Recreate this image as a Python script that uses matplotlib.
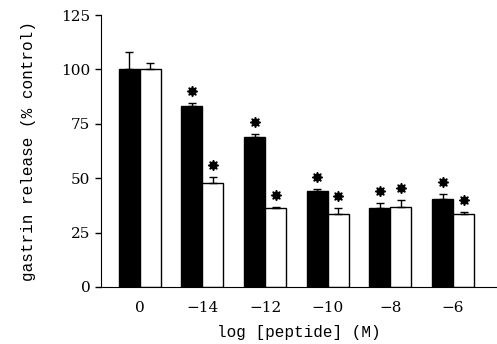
import numpy as np
import matplotlib.pyplot as plt

plt.rcParams['font.family'] = 'DejaVu Serif'

groups = ['0', '\u221214', '\u221212', '\u221210', '\u22128', '\u22126']
black_vals = [100, 83.3, 69.1, 44.1, 36.4, 40.4]
black_err = [8.0, 1.4, 1.1, 0.9, 2.0, 2.2]
white_vals = [100, 47.9, 36.3, 33.5, 36.6, 33.4]
white_err = [3.0, 2.8, 0.4, 2.9, 3.4, 1.2]
black_sig = [False, True, True, True, True, True]
white_sig = [False, True, True, True, True, True]

fig = plt.figure(figsize=(4.97, 3.44), dpi=100)
ax = fig.add_axes([0.203, 0.166, 0.797, 0.79])

x = np.arange(len(groups))
w = 0.335
bv = np.array(black_vals)
be = np.array(black_err)
wv = np.array(white_vals)
we = np.array(white_err)

ax.bar(x - w / 2, bv, w, color='black', edgecolor='black', linewidth=1)
ax.bar(x + w / 2, wv, w, color='white', edgecolor='black', linewidth=1)
ax.errorbar(x - w / 2, bv, yerr=[np.zeros_like(be), be], fmt='none',
            ecolor='black', elinewidth=1, capsize=3, capthick=1)
ax.errorbar(x + w / 2, wv, yerr=[np.zeros_like(we), we], fmt='none',
            ecolor='black', elinewidth=1, capsize=3, capthick=1)

# significance stars above the error bars
star = (8, 1, 0)
for i in range(len(groups)):
    if black_sig[i]:
        ax.plot(x[i] - w / 2, bv[i] + be[i] + 5.5, marker=star, color='black',
                markersize=7.5, linestyle='none')
    if white_sig[i]:
        ax.plot(x[i] + w / 2, wv[i] + we[i] + 5.5, marker=star, color='black',
                markersize=7.5, linestyle='none')

ax.set_xlim(-0.62, 5.7)
ax.set_ylim(0, 125)
ax.set_yticks([0, 25, 50, 75, 100, 125])
ax.set_xticks(x)
ax.set_xticklabels(groups)
ax.tick_params(axis='x', length=0, pad=10, labelsize=11)
ax.tick_params(axis='y', length=4, width=1, direction='out', labelsize=11)
ax.spines['top'].set_visible(False)
ax.spines['right'].set_visible(False)
ax.set_xlabel('log [peptide] (M)', fontsize=11.5, family='Liberation Mono',
              labelpad=7)
ax.set_ylabel('gastrin release (% control)', fontsize=11.5,
              family='Liberation Mono', labelpad=18)

fig.savefig('out.png', dpi=100)
